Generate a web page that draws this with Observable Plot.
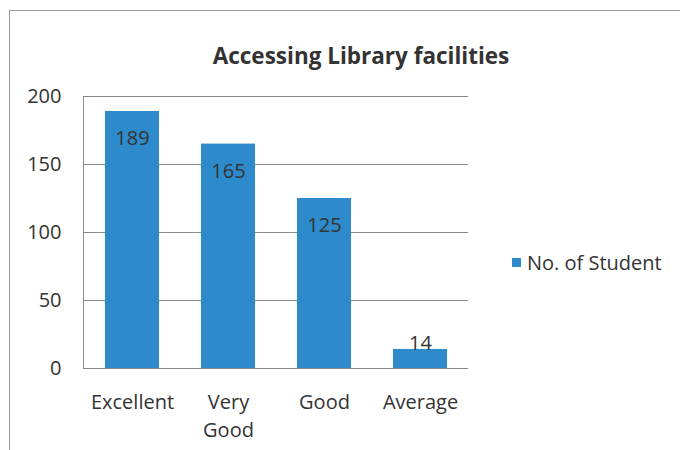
<!DOCTYPE html>
<html>
<head>
<meta charset="utf-8">
<script src="https://cdn.jsdelivr.net/npm/d3@7"></script>
<script src="https://cdn.jsdelivr.net/npm/@observablehq/plot@0.6"></script>
<style>
  body { margin: 0; background: #fff; font-family: "Open Sans", sans-serif; }
  #wrap { position: relative; width: 680px; height: 450px; overflow: hidden; background: #fff; }
  #border { position: absolute; left: 9px; top: 10px; width: 700px; height: 480px; border-left: 1.5px solid #9a9a9a; border-top: 1.5px solid #9a9a9a; }
  #title { position: absolute; left: 0; width: 722px; top: 40px; text-align: center; font-weight: bold; font-size: 22.5px; color: #333; }
  #chart { position: absolute; left: 0; top: 0; }
  #legend { position: absolute; left: 512px; top: 249px; font-size: 20px; color: #333; display: flex; align-items: center; }
  #legend span.sw { display: inline-block; width: 9px; height: 9px; margin-right: 6px; }
</style>
</head>
<body>
<div id="wrap">
  <div id="border"></div>
  <div id="chart"></div>
  <div id="title">Accessing Library facilities</div>
  <div id="legend"><span class="sw"></span><span id="legtext"></span></div>
</div>
<script>
const categories = ["Excellent", "Very Good", "Good", "Average"];
const tickLabels = ["Excellent", "Very\nGood", "Good", "Average"];
const values = [189, 165, 125, 14];
const seriesName = "No. of Student";
const yTicks = [0, 50, 100, 150, 200];

const barColor = "#2d8bcb";
const textColor = "#333";

const data = categories.map((c, i) => ({category: c, value: values[i]}));
const labelOf = new Map(categories.map((c, i) => [c, tickLabels[i]]));

const chart = Plot.plot({
  width: 680,
  height: 450,
  marginLeft: 83,
  marginRight: 212,
  marginTop: 96,
  marginBottom: 82,
  style: {fontFamily: "'Open Sans', sans-serif", fontSize: "20px", color: textColor, background: "transparent"},
  x: {domain: categories, paddingInner: 0.44, paddingOuter: 0.22, axis: null, label: null},
  y: {domain: [0, 200], axis: null, label: null},
  marks: [
    Plot.gridY(yTicks, {stroke: "#8a8a8a", strokeOpacity: 1, strokeWidth: 1}),
    Plot.frame({anchor: "left", stroke: "#8a8a8a"}),
    Plot.barY(data, {x: "category", y: "value", fill: barColor}),
    Plot.ruleY([0], {stroke: "#8a8a8a", strokeWidth: 1}),
    Plot.axisY(yTicks, {tickSize: 0, tickPadding: 22, fontSize: 20, fill: textColor, label: null}),
    Plot.axisX({tickSize: 0, tickPadding: 21, fontSize: 20, fill: textColor, lineHeight: 1.4, label: null, tickFormat: d => labelOf.get(d)}),
    Plot.text(data.filter(d => d.value > 30), {x: "category", y: "value", text: d => String(d.value), dy: 27, fontSize: 20, fill: textColor}),
    Plot.text(data.filter(d => d.value <= 30), {x: "category", y: "value", text: d => String(d.value), dy: -6, fontSize: 20, fill: textColor})
  ]
});
document.getElementById("chart").appendChild(chart);
document.querySelector("#legend .sw").style.background = barColor;
document.getElementById("legtext").textContent = seriesName;
</script>
</body>
</html>
